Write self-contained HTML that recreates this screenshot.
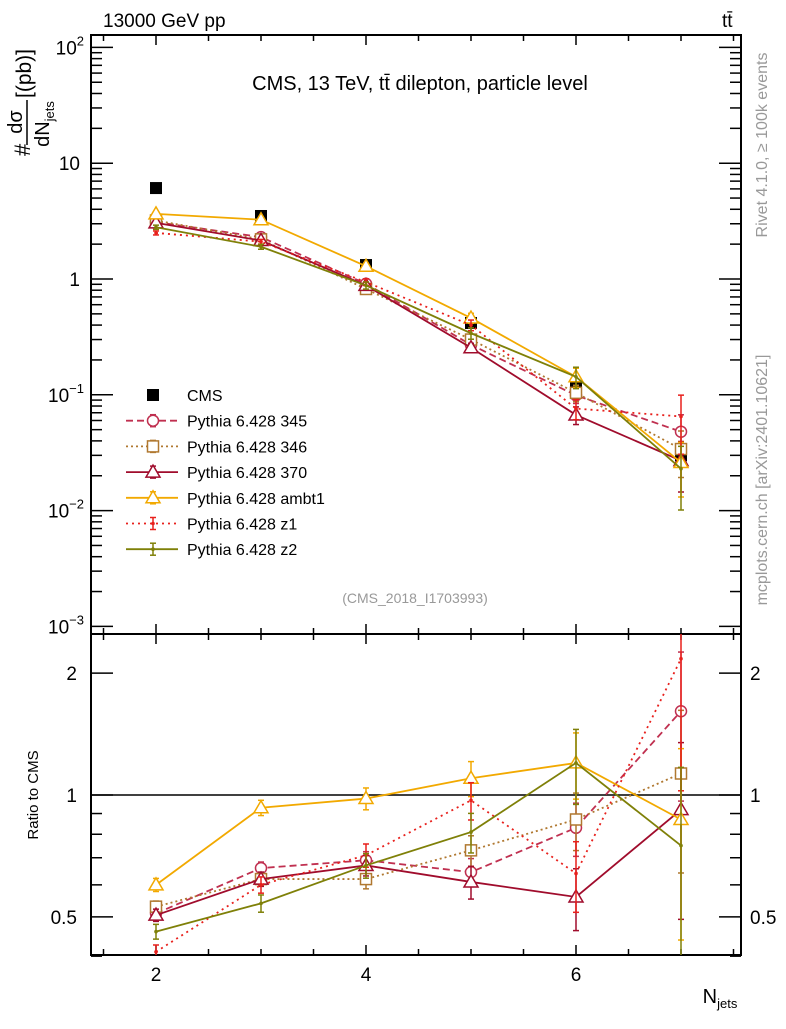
<!DOCTYPE html>
<html><head><meta charset="utf-8"><style>
body{margin:0;background:#fff;overflow:hidden;}
svg text{font-family:"Liberation Sans",sans-serif;}
</style></head><body>
<svg id="c" width="786" height="1024" xmlns="http://www.w3.org/2000/svg">
<defs>
<clipPath id="cm"><rect x="91" y="35" width="650" height="599"/></clipPath>
<clipPath id="cr"><rect x="91" y="634" width="650" height="321"/></clipPath>
</defs>
<text x="103" y="27" font-size="19">13000 GeV pp</text>
<text x="722" y="27" font-size="19">tt̄</text>
<text x="420" y="90" font-size="20" text-anchor="middle">CMS, 13 TeV, tt̄ dilepton, particle level</text>
<text x="415" y="603" font-size="14" fill="#999" text-anchor="middle">(CMS_2018_I1703993)</text>
<text transform="translate(767,145) rotate(-90)" font-size="16" fill="#999" text-anchor="middle">Rivet 4.1.0, ≥ 100k events</text>
<text transform="translate(767,480) rotate(-90)" font-size="16" fill="#999" text-anchor="middle">mcplots.cern.ch [arXiv:2401.10621]</text>
<g>
<text transform="translate(30,156) rotate(-90)" font-size="22">#</text>
<text transform="translate(22,122) rotate(-90)" font-size="20" text-anchor="middle">dσ</text>
<line x1="27" y1="100" x2="27" y2="145" stroke="#000" stroke-width="1.5"/>
<text transform="translate(49,124) rotate(-90)" font-size="20" text-anchor="middle">dN<tspan font-size="13" dy="5">jets</tspan></text>
<text transform="translate(31,98) rotate(-90)" font-size="21">[(pb)]</text>
</g>
<text transform="translate(38,795) rotate(-90)" font-size="15" text-anchor="middle">Ratio to CMS</text>
<text x="720" y="1003" font-size="20" text-anchor="middle">N<tspan font-size="13" dy="5">jets</tspan></text>
</svg>
<script>
const NS="http://www.w3.org/2000/svg";
const svg=document.getElementById('c');
const nj=[2,3,4,5,6,7];
const cmsVals=[6.1,3.5,1.32,0.417,0.119,0.030];
const cmsErr=[0.15,0.08,0.04,0.02,0.008,0.004];
const names=["Pythia 6.428 345","Pythia 6.428 346","Pythia 6.428 370","Pythia 6.428 ambt1","Pythia 6.428 z1","Pythia 6.428 z2"];
const v345=[3.1,2.3,0.91,0.27,0.099,0.048];
const v346=[3.2,2.2,0.82,0.30,0.104,0.034];
const v370=[3.05,2.15,0.88,0.255,0.067,0.027];
const vambt1=[3.65,3.25,1.29,0.46,0.143,0.026];
const vz1=[2.5,2.1,0.94,0.40,0.076,0.065];
const vz2=[2.8,1.9,0.88,0.34,0.143,0.023];
const r345=[0.51,0.66,0.69,0.645,0.83,1.61];
const r346=[0.53,0.62,0.62,0.73,0.87,1.13];
const r370=[0.505,0.62,0.67,0.61,0.56,0.92];
const rambt1=[0.60,0.93,0.98,1.10,1.20,0.87];
const rz1=[0.41,0.60,0.71,0.97,0.64,2.17];
const rz2=[0.46,0.54,0.67,0.81,1.20,0.75];
const relErr=[0.03,0.035,0.05,0.08,0.15,0.4];
const mainVals=[v345,v346,v370,vambt1,vz1,vz2];
const ratioVals=[r345,r346,r370,rambt1,rz1,rz2];
const colors=["#c03050","#b07830","#a00c2c","#f2a900","#e8201c","#7f8008"];
const dashes=["7,4","2,3","","","2,4",""];
const markers=["circle","square","triangle","triangle","dot","dot"];
const xs=['series-345','series-346','series-370','series-ambt1','series-z1','series-z2'];

const L=91,R=741,T=35,MB=634,RB=955;
const X=v=>156+(v-2)*105;
const Ym=v=>279-115.8*Math.log10(v);
const Yr=v=>795-405*Math.log10(v);
function el(t,a,p){const e=document.createElementNS(NS,t);for(const k in a)e.setAttribute(k,a[k]);(p||svg).appendChild(e);return e;}
const f1=el('rect',{x:L,y:T,width:R-L,height:MB-T,fill:'none',stroke:'#000','stroke-width':2});


const f2=el('rect',{x:L,y:MB,width:R-L,height:RB-MB,fill:'none',stroke:'#000','stroke-width':2});


const gx=el('g',{stroke:'#000','stroke-width':1.5});


for(let v=1.5;v<=7.5;v+=0.5){const big=(v%2===0);const len=big?10:6;
 [T,MB].forEach(y=>el('line',{x1:X(v),x2:X(v),y1:y,y2:y+len},gx));
 [MB,RB].forEach(y=>el('line',{x1:X(v),x2:X(v),y1:y,y2:y-len},gx));}
[2,4,6].forEach(v=>{const t=el('text',{x:X(v),y:981,'font-size':19,'text-anchor':'middle'});t.textContent=v;

});
const gy=el('g',{stroke:'#000','stroke-width':1.5});


for(let d=-3;d<=2;d++){for(let m=1;m<10;m++){const v=m*Math.pow(10,d);const y=Ym(v);if(y<T)continue;const len=m===1?22:11;
 el('line',{x1:L,x2:L+len,y1:y,y2:y},gy);el('line',{x1:R,x2:R-len,y1:y,y2:y},gy);}}
const ylab=[["10","2"],["10",""],["1",""],["10","−1"],["10","−2"],["10","−3"]];
const ydec=[2,1,0,-1,-2,-3];
ydec.forEach((d,i)=>{const t=el('text',{x:80,y:Ym(Math.pow(10,d))+7,'font-size':19,'text-anchor':'end'});
 t.textContent=ylab[i][0];
 if(ylab[i][1]){const s=el('tspan',{'font-size':13,dy:-9},t);s.textContent=ylab[i][1];t.setAttribute('x',84);}
 
 });
const rt=[0.4,0.5,0.6,0.7,0.8,0.9,1,2];
rt.forEach(v=>{const y=Yr(v);const big=(v===0.5||v===1||v===2);const len=big?22:11;
 el('line',{x1:L,x2:L+len,y1:y,y2:y},gy);el('line',{x1:R,x2:R-len,y1:y,y2:y},gy);});
const rlab=[2,1,0.5];
rlab.forEach(v=>{[[77,'end'],[750,'start']].forEach(p=>{const t=el('text',{x:p[0],y:Yr(v)+7,'font-size':19,'text-anchor':p[1]});t.textContent=v;
 
 });});
const one=el('line',{x1:L,x2:R,y1:Yr(1),y2:Yr(1),stroke:'#000','stroke-width':1.5});



function marker(g,type,x,y,c){
 if(type==='circle')el('circle',{cx:x,cy:y,r:5.5,fill:'#fff',stroke:c,'stroke-width':1.5},g);
 else if(type==='square')el('rect',{x:x-5.5,y:y-5.5,width:11,height:11,fill:'#fff',stroke:c,'stroke-width':1.5},g);
 else if(type==='triangle')el('polygon',{points:`${x},${y-7} ${x-7},${y+5} ${x+7},${y+5}`,fill:'#fff',stroke:c,'stroke-width':1.5},g);
 else el('circle',{cx:x,cy:y,r:1.8,fill:c},g);
}
function errbar(g,x,y1,y2,c){el('line',{x1:x,x2:x,y1:y1,y2:y2,stroke:c,'stroke-width':1.5},g);
 el('line',{x1:x-3,x2:x+3,y1:y1,y2:y1,stroke:c,'stroke-width':1.5},g);el('line',{x1:x-3,x2:x+3,y1:y2,y2:y2,stroke:c,'stroke-width':1.5},g);}
function series(vals,Y,i,panel){
 const g=el('g',{'clip-path':panel==='main'?'url(#cm)':'url(#cr)'});
 
 
 const c=colors[i];
 el('polyline',{points:nj.map((n,k)=>X(n)+','+Y(vals[k])).join(' '),fill:'none',stroke:c,'stroke-width':1.8,'stroke-dasharray':dashes[i]},g);
 nj.forEach((n,k)=>{const e=relErr[k]*(1+0.08*i);errbar(g,X(n),Y(vals[k]*(1+e)),Y(Math.max(vals[k]*(1-e),1e-4)),c);marker(g,markers[i],X(n),Y(vals[k]),c);});
}
const gc=el('g',{});


nj.forEach((n,k)=>{errbar(gc,X(n),Ym(cmsVals[k]+cmsErr[k]),Ym(cmsVals[k]-cmsErr[k]),'#000');el('rect',{x:X(n)-6,y:Ym(cmsVals[k])-6,width:12,height:12,fill:'#000'},gc);});
mainVals.forEach((v,i)=>series(v,Ym,i,'main'));
ratioVals.forEach((v,i)=>series(v,Yr,i,'ratio'));
const lg=el('g',{});


const ly0=395,ldy=25.7;
const e0=el('g',{},lg);


el('rect',{x:147,y:ly0-6,width:12,height:12,fill:'#000'},e0);
const t0=el('text',{x:187,y:ly0+6,'font-size':16},e0);t0.textContent='CMS';
names.forEach((nm,i)=>{const y=ly0+ldy*(i+1);const g=el('g',{},lg);
 
 
 el('line',{x1:126,x2:178,y1:y,y2:y,stroke:colors[i],'stroke-width':1.8,'stroke-dasharray':dashes[i]},g);
 errbar(g,153,y-6,y+6,colors[i]);
 marker(g,markers[i],153,y,colors[i]);
 const t=el('text',{x:187,y:y+6,'font-size':16},g);t.textContent=nm;});
</script>
</body></html>
